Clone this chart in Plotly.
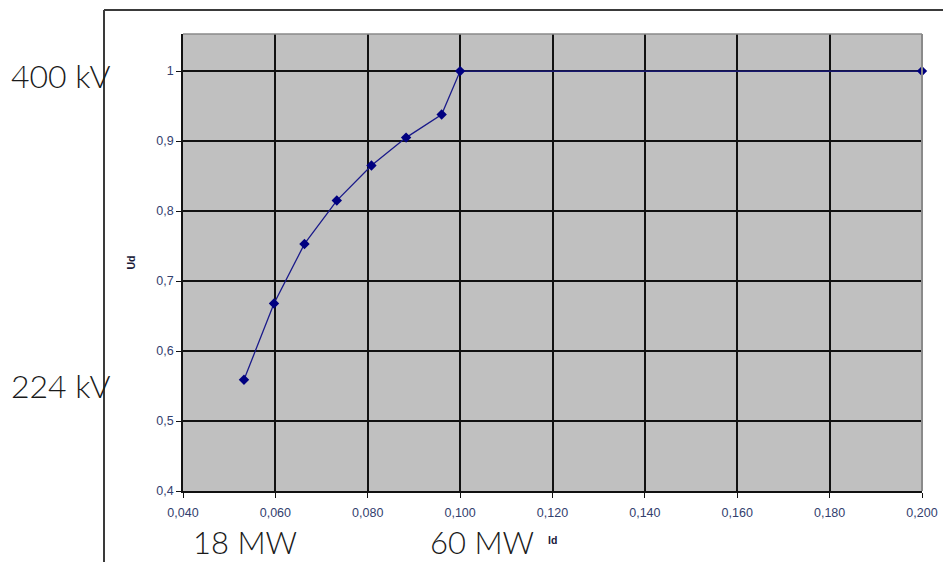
import plotly.graph_objects as go

# Data
id_values = [0.0532, 0.0597, 0.0663, 0.0733, 0.0808, 0.0883, 0.0960, 0.1000, 0.2000]
ud_values = [0.559, 0.668, 0.753, 0.815, 0.865, 0.905, 0.938, 1.000, 1.000]
x_tick_values = [0.04, 0.06, 0.08, 0.10, 0.12, 0.14, 0.16, 0.18, 0.20]
y_tick_values = [0.4, 0.5, 0.6, 0.7, 0.8, 0.9, 1.0]
side_labels = ["400 kV", "224 kV"]
bottom_labels = ["18 MW", "60 MW"]

W, H = 943, 562
L, R, T, B = 183, 21, 34, 71
PW, PH = W - L - R, H - T - B


def px(x):
    return (x - L) / PW


def py(y):
    return (H - B - y) / PH


tick_color = "#33406e"

fig = go.Figure()
fig.add_trace(go.Scatter(
    x=id_values, y=ud_values, mode="lines+markers",
    line=dict(color="#1a1a8a", width=1.3),
    marker=dict(symbol="diamond", size=8, color="#000080"),
    showlegend=False, cliponaxis=False,
))

fig.update_layout(
    width=W, height=H,
    margin=dict(l=L, r=R, t=T, b=B, autoexpand=False),
    paper_bgcolor="white", plot_bgcolor="#c0c0c0",
    separators=", ",
    font=dict(family="Arial, Liberation Sans", color=tick_color),
    xaxis=dict(
        range=[0.04, 0.2], tickvals=x_tick_values, tickformat=".3f",
        showgrid=True, gridcolor="#111111", gridwidth=1.5,
        showline=True, linecolor="#111111", linewidth=1.5,
        ticks="outside", ticklen=5, tickcolor="#111111", automargin=False,
        ticklabelstandoff=4,
        tickfont=dict(size=12.5, color=tick_color), zeroline=False,
    ),
    yaxis=dict(
        range=[0.4, 1.053], tickvals=y_tick_values,
        showgrid=True, gridcolor="#111111", gridwidth=1.5,
        showline=True, linecolor="#111111", linewidth=1.5,
        ticks="outside", ticklen=5, tickcolor="#111111", automargin=False,
        tickfont=dict(size=12.5, color=tick_color), zeroline=False,
    ),
)

# gray border on top and right of plot area
fig.add_shape(type="line", xref="paper", yref="paper", x0=0, x1=1, y0=1, y1=1,
              line=dict(color="#8a8a8a", width=1.5))
fig.add_shape(type="line", xref="paper", yref="paper", x0=1, x1=1, y0=0, y1=1,
              line=dict(color="#8a8a8a", width=2))

# outer frame lines
fig.add_shape(type="line", xref="paper", yref="paper", x0=px(104), x1=px(943),
              y0=py(10), y1=py(10), line=dict(color="#3a3a3a", width=2))
fig.add_shape(type="line", xref="paper", yref="paper", x0=px(104), x1=px(104),
              y0=py(10), y1=py(562), line=dict(color="#3a3a3a", width=2))

big_font = dict(family="Lato, Open Sans", size=32, color="#1a1a1a", weight=300)
bottom_font = dict(family="Lato, Open Sans", size=31, color="#1a1a1a", weight=300)

fig.add_annotation(text=side_labels[0], xref="paper", yref="paper", x=px(9), y=py(76),
                   xanchor="left", yanchor="middle", showarrow=False, font=big_font)
fig.add_annotation(text=side_labels[1], xref="paper", yref="paper", x=px(9), y=py(385),
                   xanchor="left", yanchor="middle", showarrow=False, font=big_font)
fig.add_annotation(text=bottom_labels[0], xref="paper", yref="paper", x=px(192), y=py(562),
                   xanchor="left", yanchor="bottom", showarrow=False, font=bottom_font,
                   borderpad=0)
fig.add_annotation(text=bottom_labels[1], xref="paper", yref="paper", x=px(429), y=py(562),
                   xanchor="left", yanchor="bottom", showarrow=False, font=bottom_font,
                   borderpad=0)

# axis titles
fig.add_annotation(text="<b>Id</b>", xref="paper", yref="paper", x=0.5, y=py(540),
                   xanchor="center", yanchor="middle", showarrow=False,
                   font=dict(size=10.5, color="#1a1a3a"))
fig.add_annotation(text="<b>Ud</b>", xref="paper", yref="paper", x=px(130), y=0.5,
                   xanchor="center", yanchor="middle", showarrow=False, textangle=-90,
                   font=dict(size=10.5, color="#1a1a3a"))

fig.write_html("out.html", config={"displayModeBar": False},
               post_script="document.body.style.margin='0';document.body.style.overflow='hidden';")
